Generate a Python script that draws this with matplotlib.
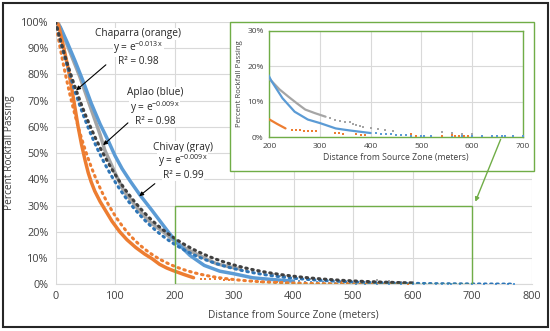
import numpy as np
import matplotlib
matplotlib.use("Agg")
import matplotlib.pyplot as plt
from matplotlib.patches import Rectangle, FancyArrowPatch

plt.rcParams['font.family'] = ['Open Sans', 'DejaVu Sans']

# ---------------- data ----------------
# Aplao (blue) cumulative % passing vs distance (m)
aplao_x = [0, 8, 20, 33, 47, 60, 75, 88, 100, 112, 125, 142, 162, 176, 190, 204,
           226, 250, 276, 300, 331, 345, 360, 377, 400]
aplao_y = [100, 98, 92, 85, 77, 69, 61, 55, 49, 44, 39.5, 34, 28.2, 24, 19.8, 15.9,
           11, 7.2, 5, 4, 2.5, 2.2, 1.9, 1.6, 1.2]
aplao_tail_x = [410, 420, 430, 440, 450, 460, 470, 480, 490, 500, 505, 520, 540, 560, 580,
                600, 620, 640, 650, 660, 665, 680, 700, 720, 740, 760, 770]
aplao_tail_y = [1.1, 0.9, 0.8, 0.8, 0.7, 0.6, 0.55, 0.5, 0.4, 0.35, 0.3, 0.3, 0.3, 0.3, 0.3,
                0.3, 0.3, 0.3, 0.3, 0.3, 0.3, 0.25, 0.25, 0.25, 0.25, 0.2, 0.2]

# Chivay (gray)
chivay_x = [0, 5, 20, 41, 61, 75, 83, 103, 115, 134, 145, 160, 181, 200, 220, 238, 255,
            271, 290, 311]
chivay_y = [100, 99.4, 91, 79, 66, 57, 51, 41, 35.5, 30, 27, 23.5, 20, 16.5, 13.5, 11.4,
            9.5, 7.8, 6.8, 5.8]
chivay_tail_x = [320, 330, 340, 350, 360, 366, 372, 378, 385, 401, 415, 428, 445, 540, 560,
                 580, 600]
chivay_tail_y = [5.4, 5.0, 4.7, 4.4, 4.2, 3.8, 3.5, 3.2, 3.0, 2.5, 2.2, 2.0, 1.8, 1.5, 1.2,
                 1.0, 0.8]

# Chaparra (orange)
chaparra_x = [0, 5, 13, 21.5, 30, 38, 44, 50, 55, 60, 66, 75, 83, 95, 108, 120, 135, 150,
              162, 175, 187, 198, 215, 232]
chaparra_y = [100, 98.8, 91, 82, 71, 60, 53, 47, 42.5, 39, 35.5, 31.5, 28.5, 24, 20, 17, 14,
              11.5, 9.8, 7.6, 6.2, 5.2, 3.8, 2.5]
chaparra_tail_x = [245, 252, 260, 268, 276, 284, 292, 330, 338, 346, 372, 380, 388, 480, 490,
                   540, 560, 566, 575, 585, 592]
chaparra_tail_y = [2.1, 2.0, 2.0, 1.9, 1.9, 1.8, 1.7, 1.2, 1.1, 1.0, 0.8, 0.7, 0.6, 0.8, 0.5,
                   0.4, 0.6, 0.5, 0.4, 0.4, 0.3]

# exponential trendline coefficients  y = exp(b x)
trend_b = {'Chaparra': -0.0134, 'Aplao': -0.0094, 'Chivay': -0.0087}
trend_xmax = {'Chaparra': 592, 'Aplao': 770, 'Chivay': 600}

labels = {
    'Chaparra': ("Chaparra (orange)", "-0.013x", "0.98"),
    'Aplao': ("Aplao (blue)", "-0.009x", "0.98"),
    'Chivay': ("Chivay (gray)", "-0.009x", "0.99"),
}

xticks = [0, 100, 200, 300, 400, 500, 600, 700, 800]
yticks = [0, 10, 20, 30, 40, 50, 60, 70, 80, 90, 100]
inset_xticks = [200, 300, 400, 500, 600, 700]
inset_yticks = [0, 10, 20, 30]

BLUE = '#5B9BD5'
ORANGE = '#ED7D31'
GRAY = '#A5A5A5'
BLUE_T = '#2E75B6'
GRAY_T = '#404040'
GREEN = '#70AD47'
GRID = '#D9D9D9'
TXT = '#404040'

W, H = 550, 331
fig = plt.figure(figsize=(5.5, 3.31), dpi=100)


def fx(px):
    return px / W


def fy(py):
    return 1 - py / H


ax = fig.add_axes([fx(55.5), fy(284.3), fx(531.5) - fx(55.5), fy(21.8) - fy(284.3)])


def draw_series(a, ms_tail=1.8, lw=2.5):
    a.plot(chivay_x, chivay_y, color=GRAY, lw=lw, solid_capstyle='round', zorder=3)
    a.plot(chivay_tail_x, chivay_tail_y, ls='none', marker='s', ms=ms_tail, color=GRAY, mew=0, zorder=3)
    a.plot(aplao_x, aplao_y, color=BLUE, lw=lw, solid_capstyle='round', zorder=3)
    a.plot(aplao_tail_x, aplao_tail_y, ls='none', marker='s', ms=ms_tail, color=BLUE, mew=0, zorder=3)
    a.plot(chaparra_x, chaparra_y, color=ORANGE, lw=lw, solid_capstyle='round', zorder=3)
    a.plot(chaparra_tail_x, chaparra_tail_y, ls='none', marker='s', ms=ms_tail, color=ORANGE, mew=0, zorder=3)


draw_series(ax)

# trendlines
for name, col in [('Chaparra', ORANGE), ('Aplao', BLUE_T), ('Chivay', GRAY_T)]:
    xs = np.linspace(0, trend_xmax[name], 400)
    ax.plot(xs, 100 * np.exp(trend_b[name] * xs), color=col, lw=2.2,
            ls=(0, (0.5, 1.5)), dash_capstyle='round', zorder=4)

ax.set_xlim(0, 800)
ax.set_ylim(0, 100)
ax.set_xticks(xticks)
ax.set_yticks(yticks)
ax.set_yticklabels([f"{v}%" for v in yticks])
ax.tick_params(length=0, labelsize=7.8, colors=TXT, pad=5)
ax.grid(True, color=GRID, lw=0.8)
ax.set_axisbelow(True)
for s in ['top', 'right', 'left']:
    ax.spines[s].set_visible(False)
ax.spines['bottom'].set_color(GRID)
ax.set_xlabel("Distance from Source Zone (meters)", fontsize=7.3, color=TXT, labelpad=5)
ax.set_ylabel("Percent Rockfall Passing", fontsize=7.3, color=TXT, labelpad=4)

# zoom rectangle in main axes
ax.add_patch(Rectangle((200, 0), 500, 30, fill=False, ec=GREEN, lw=1.0, zorder=5))

# annotations
ann = [
    ('Chaparra', 138.7, [95.4, 90.0, 84.7], (88.2, 84.3), (31.1, 73.2)),
    ('Aplao', 167.0, [72.9, 67.5, 62.2], (125.2, 62.2), (76.5, 52.3)),
    ('Chivay', 214.0, [52.3, 47.0, 41.6], (170.6, 39.0), (137.0, 32.9)),
]
for name, xc, ys, tail, head in ann:
    t1, ex, r2 = labels[name]
    kw = dict(ha='center', va='center', fontsize=7.3, color='#262626', zorder=6,
              bbox=dict(fc='white', ec='none', pad=0.5))
    ax.text(xc, ys[0], t1, **kw)
    ax.text(xc, ys[1], r"y = e$^{\mathregular{" + ex.replace('-', '−') + r"}}$", **kw)
    ax.text(xc, ys[2], "R² = " + r2, **kw)
    ax.annotate('', xy=head, xytext=tail, xycoords='data', textcoords='data',
                arrowprops=dict(arrowstyle='-|>', color='black', lw=0.8, mutation_scale=6), zorder=7)

# inset outer box
fig.patches.append(Rectangle((fx(230), fy(171)), fx(534.3) - fx(230), fy(21.7) - fy(171),
                             transform=fig.transFigure, fc='white', ec=GREEN, lw=1.0, zorder=10))

iax = fig.add_axes([fx(269.3), fy(137.3), fx(522.7) - fx(269.3), fy(30.7) - fy(137.3)])
iax.set_zorder(11)
draw_series(iax, ms_tail=1.6, lw=1.6)
iax.set_xlim(200, 700)
iax.set_ylim(0, 30)
iax.set_xticks(inset_xticks)
iax.set_yticks(inset_yticks)
iax.set_yticklabels([f"{v}%" for v in inset_yticks])
iax.tick_params(length=0, labelsize=6.0, colors=TXT, pad=4)
iax.grid(True, color=GRID, lw=0.8)
iax.set_axisbelow(True)
for s in iax.spines.values():
    s.set_color(GREEN)
    s.set_linewidth(1.0)
iax.set_xlabel("Distance from Source Zone (meters)", fontsize=6.2, color=TXT, labelpad=2)
iax.set_ylabel("Percent Rockfall Passing", fontsize=5.6, color=TXT, labelpad=3)

# arrow from inset to the zoom rectangle
fig.add_artist(FancyArrowPatch(
    (fx(501.7), fy(136.7)), (fx(474.3), fy(204.3)), transform=fig.transFigure,
    arrowstyle='-|>', color=GREEN, lw=1.0, mutation_scale=6, zorder=12))

# outer frame
fig.patches.append(Rectangle((fx(2.5), fy(327)), fx(547.5) - fx(2.5), fy(3) - fy(327),
                             transform=fig.transFigure, fill=False, ec='#262626', lw=1.5, zorder=0))

fig.savefig("out.png", dpi=100)
